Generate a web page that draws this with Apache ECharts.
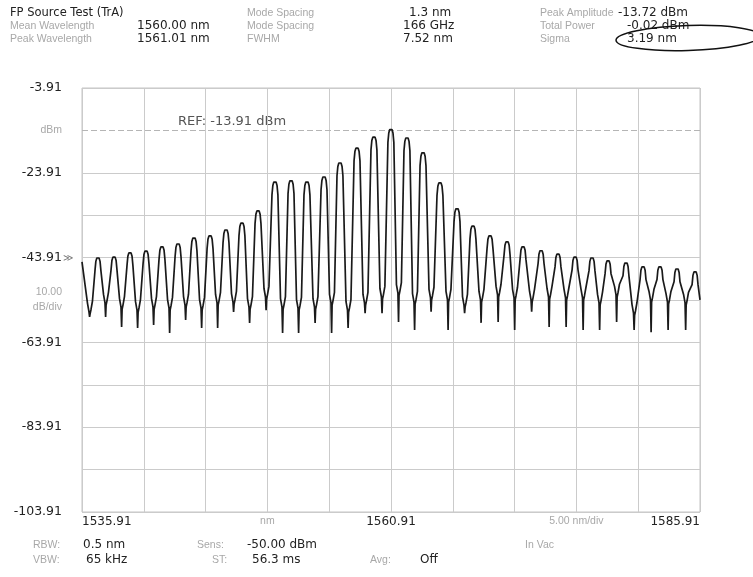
<!DOCTYPE html>
<html>
<head>
<meta charset="utf-8">
<script src="https://cdn.jsdelivr.net/npm/echarts@6/dist/echarts.min.js"></script>
<style>
html,body{margin:0;padding:0;background:#fff;}
#c{width:753px;height:577px;}
</style>
</head>
<body>
<div id="c"></div>
<script>
// ---- data ----
const peakNm = [1537.20,1538.50,1539.79,1541.09,1542.38,1543.68,1544.97,1546.27,1547.56,1548.85,
  1550.15,1551.52,1552.82,1554.11,1555.49,1556.78,1558.16,1559.53,1560.90,1562.20,
  1563.50,1564.87,1566.25,1567.54,1568.92,1570.30,1571.59,1573.05,1574.42,1575.80,
  1577.17,1578.47,1579.92,1581.30,1582.67,1584.05,1585.51];
const peakDbm = [-44.0,-43.8,-42.8,-42.4,-41.4,-40.7,-39.3,-38.8,-37.4,-35.8,
  -32.9,-26.1,-25.8,-26.1,-24.9,-21.6,-18.1,-15.5,-13.72,-15.7,
  -19.2,-26.3,-32.4,-36.5,-38.8,-40.2,-41.4,-42.3,-43.1,-43.8,
  -44.0,-44.7,-45.2,-46.1,-46.1,-46.6,-47.3];
// trough level before each peak (first one is before peak 1)
const troughDbm = [-56.7,-54.6,-55.6,-56.3,-55.6,-55.8,-55.1,-55.8,-54.6,-54.4,
  -55.6,-53.2,-55.6,-55.8,-55.6,-54.6,-56.3,-54.6,-53.2,-52.3,
  -54.4,-53.4,-53.9,-55.1,-53.9,-52.7,-53.4,-53.9,-53.2,-53.4,
  -53.4,-54.6,-52.7,-57.0,-53.9,-54.4,-54.6];
const spikeDbm = [-57.9,-57.9,-60.3,-60.5,-59.8,-61.7,-58.6,-60.5,-60.5,-56.7,
  -59.3,-56.3,-61.7,-61.7,-59.3,-61.7,-60.5,-57.0,-57.0,-59.1,
  -61.0,-56.7,-61.0,-57.0,-59.3,-59.1,-61.0,-56.7,-60.3,-60.3,
  -61.0,-61.0,-59.1,-61.0,-61.5,-61.0,-61.0];
const traceStart = [1535.91, -44.9];
const traceEnd = [1585.91, -53.9];

const xMin = 1535.91, xMax = 1585.91, xStep = 5;
const yMin = -103.91, yMax = -3.91, yStep = 10;
const refLevel = -13.91;

// ---- build trace polyline from read peak/trough values ----
const trace = [traceStart];
for (let i = 0; i < peakNm.length; i++) {
  const c = peakNm[i], p = peakDbm[i];
  const prev = i === 0 ? traceStart[0] : peakNm[i - 1];
  const m = (prev + c) / 2, t = troughDbm[i], s = spikeDbm[i];
  trace.push([m - 0.2, t + 2], [m - 0.08, t], [m - 0.03, s], [m + 0.01, t - 0.5], [m + 0.08, t + 0.5], [m + 0.2, t + 2.5]);
  trace.push([c - 0.24, p - 3], [c - 0.17, p - 0.8], [c - 0.09, p], [c + 0.09, p], [c + 0.17, p - 0.8], [c + 0.24, p - 3]);
}
trace.push(traceEnd);

const chart = echarts.init(document.getElementById('c'), null, {renderer: 'canvas'});
const gray = '#a8a8a8';
const dark = '#222';
const near = (a, b) => Math.abs(a - b) < 0.01;
const numFont = '"DejaVu Sans", Verdana, sans-serif';
const lblFont = '"Liberation Sans", Arial, sans-serif';

const ySplitColors = [];
for (let v = 0; v <= 10; v++) ySplitColors.push(v === 9 ? 'rgba(0,0,0,0)' : '#cbcbcb');

const T = (x, y, text, color, size, fam) => ({
  type: 'text', left: x, top: y - Math.round(size * 0.6),
  style: {text: text, fill: color, font: size + 'px ' + (fam || lblFont)}
});
const V = (x, y, text) => T(x, y, text, dark, 12, numFont);
const L = (x, y, text) => T(x, y, text, gray, 10.5, lblFont);

chart.setOption({
  animation: false,
  backgroundColor: '#fff',
  grid: {left: 82, right: 53, top: 88, bottom: 65, show: true, borderColor: '#c4c4c4', borderWidth: 1},
  xAxis: {
    type: 'value', min: xMin, max: xMax, interval: xStep,
    axisLine: {show: false}, axisTick: {show: false},
    splitLine: {show: true, lineStyle: {color: '#cbcbcb', width: 1}},
    axisLabel: {
      margin: 4, alignMinLabel: 'left', alignMaxLabel: 'right',
      formatter: v => {
        if (near(v, 1535.91)) return '{b|1535.91}';
        if (near(v, 1560.91)) return '{b|1560.91}';
        if (near(v, 1585.91)) return '{b|1585.91}';
        if (near(v, 1550.91)) return '{g|nm}';
        if (near(v, 1575.91)) return '{g|5.00 nm/div}';
        return '';
      },
      rich: {
        b: {color: dark, fontSize: 12, fontFamily: 'DejaVu Sans'},
        g: {color: gray, fontSize: 10.5, fontFamily: 'Liberation Sans'}
      }
    }
  },
  yAxis: {
    type: 'value', min: yMin, max: yMax, interval: yStep,
    axisLine: {show: false}, axisTick: {show: false},
    splitLine: {show: true, lineStyle: {color: ySplitColors, width: 1}},
    axisLabel: {
      margin: 20,
      formatter: v => {
        const r = Math.round(v * 100) / 100;
        if (near(r, -13.91)) return '{g|dBm}';
        if (near(r, -53.91)) return '{g|10.00}\n{g|dB/div}';
        if (near(r, -33.91) || near(r, -73.91) || near(r, -93.91)) return '';
        return '{b|' + r.toFixed(2) + '}';
      },
      rich: {
        b: {color: dark, fontSize: 12.5, fontFamily: 'DejaVu Sans'},
        g: {color: gray, fontSize: 10.5, fontFamily: 'Liberation Sans', align: 'right', lineHeight: 15}
      }
    }
  },
  series: [{
    type: 'line', data: trace, showSymbol: false, symbol: 'none',
    lineStyle: {color: '#1a1a1a', width: 1.7}, z: 5,
    markLine: {
      silent: true, symbol: 'none',
      lineStyle: {color: '#b5b5b5', type: [6, 3], width: 1},
      label: {show: false},
      data: [{yAxis: refLevel}]
    }
  }],
  graphic: [
    T(10, 14, 'FP Source Test (TrA)', dark, 11.5, numFont),
    L(10, 27, 'Mean Wavelength'),
    V(137, 27, '1560.00 nm'),
    L(10, 40, 'Peak Wavelength'),
    V(137, 40, '1561.01 nm'),
    L(247, 14, 'Mode Spacing'),
    L(247, 27, 'Mode Spacing'),
    L(247, 40, 'FWHM'),
    V(409, 14, '1.3 nm'),
    V(403, 27, '166 GHz'),
    V(403, 40, '7.52 nm'),
    L(540, 14, 'Peak Amplitude'),
    L(540, 27, 'Total Power'),
    L(540, 40, 'Sigma'),
    V(618, 14, '-13.72 dBm'),
    V(627, 27, '-0.02 dBm'),
    V(627, 40, '3.19 nm'),
    T(178, 123, 'REF: -13.91 dBm', '#555', 13, numFont),
    T(63, 259, '≫', '#777', 10, lblFont),
    L(33, 546, 'RBW:'),
    V(83, 546, '0.5 nm'),
    L(197, 546, 'Sens:'),
    V(247, 546, '-50.00 dBm'),
    L(525, 546, 'In Vac'),
    L(33, 561, 'VBW:'),
    V(86, 561, '65 kHz'),
    L(212, 561, 'ST:'),
    V(252, 561, '56.3 ms'),
    L(370, 561, 'Avg:'),
    V(420, 561, 'Off'),
    {type: 'ellipse', shape: {cx: 688, cy: 38, rx: 72, ry: 12.5}, rotation: 0.03, originX: 688, originY: 38,
      style: {fill: 'none', stroke: '#111', lineWidth: 1.5}, z: 10}
  ]
});
</script>
</body>
</html>
